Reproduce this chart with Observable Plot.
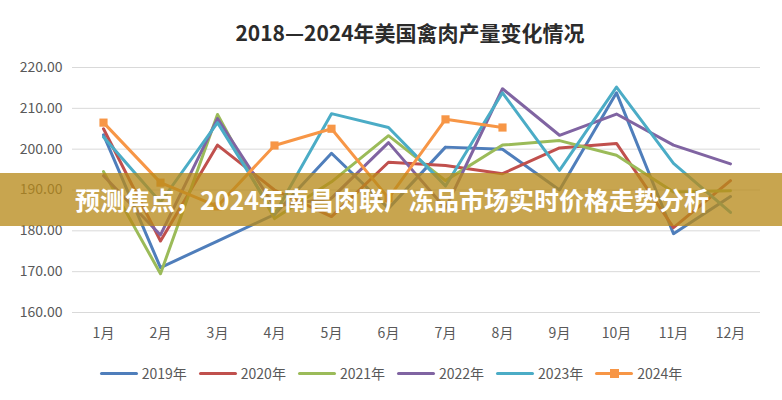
<!DOCTYPE html>
<html>
<head>
<meta charset="utf-8">
<script src="https://cdn.jsdelivr.net/npm/d3@7"></script>
<script src="https://cdn.jsdelivr.net/npm/@observablehq/plot@0.6"></script>
<style>
  html, body { margin: 0; padding: 0; background: #fff; }
  #wrap { position: relative; width: 782px; height: 400px; overflow: hidden; background: #fff;
          font-family: "Noto Sans CJK SC", "Noto Sans", sans-serif; }
  #title { position: absolute; top: 17px; left: 38px; width: 744px; text-align: center;
           font-size: 21px; font-weight: bold; color: #2b2b2b; line-height: 30px; }
  #chart { position: absolute; top: 50px; left: 0; }
  #legend { position: absolute; top: 362px; left: 0; width: 782px; display: flex; justify-content: center;
            gap: 12px; font-size: 14px; color: #595959; line-height: 22px; }
  .item { display: flex; align-items: center; gap: 4px; }
  .sw { position: relative; width: 38px; height: 3px; border-radius: 2px; }
  .sw .mk { position: absolute; left: 15px; top: -3px; width: 9px; height: 9px; }
  #banner { position: absolute; top: 173px; left: 0; width: 782px; height: 53px;
            background: rgba(183,138,26,0.77); }
  #banner span { position: absolute; left: 75px; top: 0; line-height: 53px; color: #fff;
                 font-weight: bold; font-size: 25px; white-space: nowrap; }
</style>
</head>
<body>
<div id="wrap">
  <div id="title"></div>
  <div id="chart"></div>
  <div id="legend"></div>
  <div id="banner"><span id="bannerText"></span></div>
</div>
<script>
const titleText = "2018—2024年美国禽肉产量变化情况";
const bannerText = "预测焦点，2024年南昌肉联厂冻品市场实时价格走势分析";
const months = ["1月","2月","3月","4月","5月","6月","7月","8月","9月","10月","11月","12月"];
const years = ["2019年","2020年","2021年","2022年","2023年","2024年"];
const colors = ["#4F7EBB","#C0504D","#9BBB59","#8064A2","#4BACC6","#F79646"];
const yTicks = [160, 170, 180, 190, 200, 210, 220];
const s2019 = [203.5,171,177.5,184,199,185.5,200.5,200,190,213.8,179.3,188.4];
const s2020 = [205,177.5,201,190,183.5,196.8,196,194,200.3,201.4,180.8,192.3];
const s2021 = [194.5,169.5,208.5,183,192,203.3,192.3,201,202.1,198.5,189.5,189.8];
const s2022 = [193.5,179,207.5,186,188,201.6,185.5,214.8,203.4,208.6,201,196.4];
const s2023 = [203,187,206.5,184,208.7,205.3,191,213.8,194.8,215.2,196.5,184.5];
const s2024 = [206.5,191.8,186,200.9,205,188,207.3,205.3,null,null,null,null];

const series = [s2019, s2020, s2021, s2022, s2023, s2024];
const rows = years.flatMap((yr, i) => months.map((m, j) => ({year: yr, month: m, value: series[i][j]})))
  .filter(d => d.value != null);
const rows2024 = rows.filter(d => d.year === "2024年");

document.getElementById("title").textContent = titleText;
document.getElementById("bannerText").textContent = bannerText;

const chart = Plot.plot({
  width: 782,
  height: 300,
  marginLeft: 72,
  marginRight: 22,
  marginTop: 17,
  marginBottom: 38,
  style: {fontFamily: '"Noto Sans CJK SC", "Noto Sans", sans-serif', fontSize: "14px", color: "#595959", background: "transparent"},
  x: {type: "point", domain: months, padding: 0.47},
  y: {domain: [160, 220]},
  color: {domain: years, range: colors},
  marks: [
    Plot.gridY(yTicks, {stroke: "#d9d9d9", strokeOpacity: 1, strokeWidth: 1}),
    Plot.axisY(yTicks, {tickSize: 0, tickPadding: 10, tickFormat: d3.format(".2f"), label: null}),
    Plot.axisX({tickSize: 0, tickPadding: 16, label: null}),
    Plot.line(rows, {x: "month", y: "value", z: "year", stroke: "year", strokeWidth: 3, strokeLinejoin: "round", strokeLinecap: "round"}),
    Plot.dot(rows2024, {x: "month", y: "value", symbol: "square", r: 4.6, fill: "#F79646", stroke: "none"})
  ]
});
document.getElementById("chart").appendChild(chart);

const legend = document.getElementById("legend");
years.forEach((yr, i) => {
  const it = document.createElement("div");
  it.className = "item";
  const sw = document.createElement("div");
  sw.className = "sw";
  sw.style.background = colors[i];
  if (i === years.length - 1) {
    const mk = document.createElement("div");
    mk.className = "mk";
    mk.style.background = colors[i];
    sw.appendChild(mk);
  }
  const tx = document.createElement("span");
  tx.textContent = yr;
  it.appendChild(sw);
  it.appendChild(tx);
  legend.appendChild(it);
});
</script>
</body>
</html>
